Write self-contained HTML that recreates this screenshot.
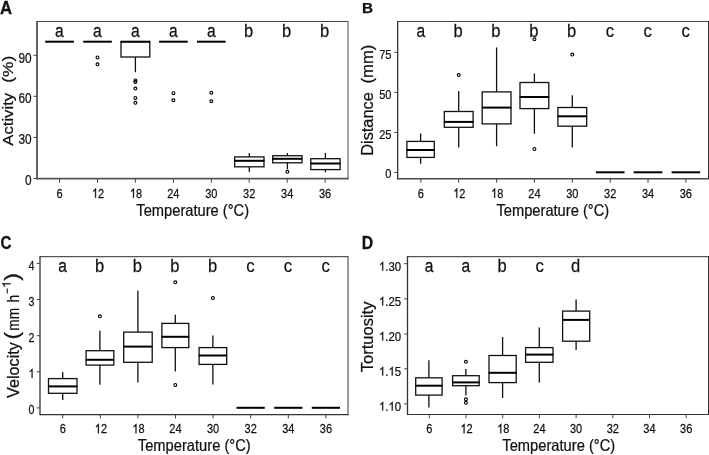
<!DOCTYPE html>
<html><head><meta charset="utf-8"><title>Figure</title>
<style>
html,body{margin:0;padding:0;background:#fff;}
svg{display:block;filter:grayscale(1);}
text{font-family:"Liberation Sans",sans-serif;fill:#111;stroke:#111;stroke-width:0.25px;}
</style></head><body>
<svg width="709" height="455" viewBox="0 0 709 455">
<rect width="709" height="455" fill="#fff"/>
<path d="M37.0 21.45H348.05" stroke="#444" stroke-width="1.1"/>
<path d="M348.05 20.9V178.7" stroke="#777" stroke-width="1.3"/>
<path d="M37.0 20.9V179.6" stroke="#555" stroke-width="1.8"/>
<path d="M37.0 178.7H348.7" stroke="#555" stroke-width="1.8"/>
<text transform="translate(0.00 13.70) scale(0.875 1)" font-size="19.1" text-anchor="start" font-weight="bold" fill="#000" stroke="#000" stroke-width="0.55">A</text>
<path d="M33.40 55.3H37.0" stroke="#444" stroke-width="1"/>
<text transform="translate(18.45 62.71) scale(0.845 1)" font-size="14.0" text-anchor="start">90</text>
<path d="M33.40 96.3H37.0" stroke="#444" stroke-width="1"/>
<text transform="translate(18.45 103.31) scale(0.845 1)" font-size="14.0" text-anchor="start">60</text>
<path d="M33.40 137.4H37.0" stroke="#444" stroke-width="1"/>
<text transform="translate(18.45 144.01) scale(0.845 1)" font-size="14.0" text-anchor="start">30</text>
<path d="M33.40 178.4H37.0" stroke="#444" stroke-width="1"/>
<text transform="translate(25.02 184.61) scale(0.845 1)" font-size="14.0" text-anchor="start">0</text>
<path d="M59.5 178.7V182.80" stroke="#444" stroke-width="1"/>
<text transform="translate(56.49 197.80) scale(0.835 1)" font-size="13.2" text-anchor="start">6</text>
<path d="M97.5 178.7V182.80" stroke="#444" stroke-width="1"/>
<path transform="translate(91.96 197.80) scale(0.005382 -0.006445)" d="M763 0H583V1147Q518 1085 412.5 1023T223 930V1104Q373 1175 485.5 1275T645 1469H763Z" fill="#111" stroke="#111" stroke-width="0.25" vector-effect="non-scaling-stroke"/><text transform="translate(98.09 197.80) scale(0.835 1)" font-size="13.2" text-anchor="start">2</text>
<path d="M135.4 178.7V182.80" stroke="#444" stroke-width="1"/>
<path transform="translate(129.90 197.80) scale(0.005382 -0.006445)" d="M763 0H583V1147Q518 1085 412.5 1023T223 930V1104Q373 1175 485.5 1275T645 1469H763Z" fill="#111" stroke="#111" stroke-width="0.25" vector-effect="non-scaling-stroke"/><text transform="translate(136.03 197.80) scale(0.835 1)" font-size="13.2" text-anchor="start">8</text>
<path d="M173.4 178.7V182.80" stroke="#444" stroke-width="1"/>
<text transform="translate(167.24 197.80) scale(0.835 1)" font-size="13.2" text-anchor="start">24</text>
<path d="M211.3 178.7V182.80" stroke="#444" stroke-width="1"/>
<text transform="translate(205.18 197.80) scale(0.835 1)" font-size="13.2" text-anchor="start">30</text>
<path d="M249.2 178.7V182.80" stroke="#444" stroke-width="1"/>
<text transform="translate(243.12 197.80) scale(0.835 1)" font-size="13.2" text-anchor="start">32</text>
<path d="M287.2 178.7V182.80" stroke="#444" stroke-width="1"/>
<text transform="translate(281.06 197.80) scale(0.835 1)" font-size="13.2" text-anchor="start">34</text>
<path d="M325.1 178.7V182.80" stroke="#444" stroke-width="1"/>
<text transform="translate(319.00 197.80) scale(0.835 1)" font-size="13.2" text-anchor="start">36</text>
<text transform="translate(59.45 37.00) scale(0.82 1)" font-size="19" text-anchor="middle">a</text>
<text transform="translate(97.39 37.00) scale(0.82 1)" font-size="19" text-anchor="middle">a</text>
<text transform="translate(135.33 37.00) scale(0.82 1)" font-size="19" text-anchor="middle">a</text>
<text transform="translate(173.27 37.00) scale(0.82 1)" font-size="19" text-anchor="middle">a</text>
<text transform="translate(211.21 37.00) scale(0.82 1)" font-size="19" text-anchor="middle">a</text>
<text transform="translate(248.65 37.00) scale(0.87 1)" font-size="19" text-anchor="middle">b</text>
<text transform="translate(286.59 37.00) scale(0.87 1)" font-size="19" text-anchor="middle">b</text>
<text transform="translate(324.53 37.00) scale(0.87 1)" font-size="19" text-anchor="middle">b</text>
<text transform="translate(192.70 216.10) scale(0.88 1)" font-size="16.7" text-anchor="middle">Temperature (°C)</text>
<text transform="translate(13.1 145.7) rotate(-90) scale(1.0 0.93)" font-size="16.7" text-anchor="start">Activity</text><text transform="translate(13.1 82.8) rotate(-90) scale(1.04 0.93)" font-size="16.7" text-anchor="start">(%)</text>
<path d="M45.2 41.7H73.9" stroke="#000" stroke-width="2"/><path d="M83.2 41.7H111.8" stroke="#000" stroke-width="2"/><circle cx="97.5" cy="57.5" r="1.45" fill="none" stroke="#000" stroke-width="1.1"/><circle cx="97.5" cy="64.3" r="1.45" fill="none" stroke="#000" stroke-width="1.1"/><path d="M135.4 41.7V41.7M135.4 57.0V72.2" stroke="#111" stroke-width="1.3" fill="none"/><rect x="121.0" y="41.7" width="28.8" height="15.3" fill="#fff" stroke="#111" stroke-width="1.3"/><path d="M120.6 41.7H150.2" stroke="#000" stroke-width="2"/><circle cx="135.4" cy="80.4" r="1.45" fill="none" stroke="#000" stroke-width="1.1"/><circle cx="135.4" cy="82.0" r="1.45" fill="none" stroke="#000" stroke-width="1.1"/><circle cx="135.4" cy="88.6" r="1.45" fill="none" stroke="#000" stroke-width="1.1"/><circle cx="135.4" cy="97.9" r="1.45" fill="none" stroke="#000" stroke-width="1.1"/><circle cx="135.4" cy="102.8" r="1.45" fill="none" stroke="#000" stroke-width="1.1"/><path d="M159.1 41.7H187.7" stroke="#000" stroke-width="2"/><circle cx="173.4" cy="93.2" r="1.45" fill="none" stroke="#000" stroke-width="1.1"/><circle cx="173.4" cy="100.3" r="1.45" fill="none" stroke="#000" stroke-width="1.1"/><path d="M197.0 41.7H225.6" stroke="#000" stroke-width="2"/><circle cx="211.3" cy="92.7" r="1.45" fill="none" stroke="#000" stroke-width="1.1"/><circle cx="211.3" cy="101.3" r="1.45" fill="none" stroke="#000" stroke-width="1.1"/><path d="M249.3 152.9V156.9M249.3 166.8V172.1" stroke="#111" stroke-width="1.3" fill="none"/><rect x="234.7" y="156.9" width="29.3" height="9.9" fill="#fff" stroke="#111" stroke-width="1.3"/><path d="M234.3 160.8H264.4" stroke="#000" stroke-width="2"/><path d="M287.4 152.9V155.7M287.4 162.8V169.3" stroke="#111" stroke-width="1.3" fill="none"/><rect x="272.7" y="155.7" width="29.3" height="7.1" fill="#fff" stroke="#111" stroke-width="1.3"/><path d="M272.3 158.8H302.4" stroke="#000" stroke-width="2"/><circle cx="287.4" cy="171.8" r="1.45" fill="none" stroke="#000" stroke-width="1.1"/><path d="M325.4 152.9V158.7M325.4 169.6V172.3" stroke="#111" stroke-width="1.3" fill="none"/><rect x="310.8" y="158.7" width="29.3" height="10.9" fill="#fff" stroke="#111" stroke-width="1.3"/><path d="M310.4 163.5H340.5" stroke="#000" stroke-width="2"/>
<path d="M397.65 21.45H708.5" stroke="#444" stroke-width="1.1"/>
<path d="M708.5 20.9V178.75" stroke="#333" stroke-width="1.0"/>
<path d="M397.65 20.9V179.6" stroke="#333" stroke-width="1.3"/>
<path d="M397.65 178.75H709.0" stroke="#4a4a4a" stroke-width="1.7"/>
<text transform="translate(362.00 13.20) scale(1.0 1)" font-size="15.3" text-anchor="start" font-weight="bold" fill="#000" stroke="#000" stroke-width="0.55">B</text>
<path d="M394.30 52.3H397.65" stroke="#444" stroke-width="1"/>
<text transform="translate(379.14 59.19) scale(0.845 1)" font-size="13.1" text-anchor="start">75</text>
<path d="M394.30 92.4H397.65" stroke="#444" stroke-width="1"/>
<text transform="translate(379.14 98.99) scale(0.845 1)" font-size="13.1" text-anchor="start">50</text>
<path d="M394.30 132.5H397.65" stroke="#444" stroke-width="1"/>
<text transform="translate(379.14 138.69) scale(0.845 1)" font-size="13.1" text-anchor="start">25</text>
<path d="M394.30 172.5H397.65" stroke="#444" stroke-width="1"/>
<text transform="translate(385.30 178.49) scale(0.845 1)" font-size="13.1" text-anchor="start">0</text>
<path d="M420.9 178.75V182.80" stroke="#444" stroke-width="1"/>
<text transform="translate(417.79 197.80) scale(0.835 1)" font-size="13.2" text-anchor="start">6</text>
<path d="M458.7 178.75V182.80" stroke="#444" stroke-width="1"/>
<path transform="translate(453.18 197.80) scale(0.005382 -0.006445)" d="M763 0H583V1147Q518 1085 412.5 1023T223 930V1104Q373 1175 485.5 1275T645 1469H763Z" fill="#111" stroke="#111" stroke-width="0.25" vector-effect="non-scaling-stroke"/><text transform="translate(459.31 197.80) scale(0.835 1)" font-size="13.2" text-anchor="start">2</text>
<path d="M496.6 178.75V182.80" stroke="#444" stroke-width="1"/>
<path transform="translate(491.04 197.80) scale(0.005382 -0.006445)" d="M763 0H583V1147Q518 1085 412.5 1023T223 930V1104Q373 1175 485.5 1275T645 1469H763Z" fill="#111" stroke="#111" stroke-width="0.25" vector-effect="non-scaling-stroke"/><text transform="translate(497.17 197.80) scale(0.835 1)" font-size="13.2" text-anchor="start">8</text>
<path d="M534.4 178.75V182.80" stroke="#444" stroke-width="1"/>
<text transform="translate(528.30 197.80) scale(0.835 1)" font-size="13.2" text-anchor="start">24</text>
<path d="M572.3 178.75V182.80" stroke="#444" stroke-width="1"/>
<text transform="translate(566.16 197.80) scale(0.835 1)" font-size="13.2" text-anchor="start">30</text>
<path d="M610.2 178.75V182.80" stroke="#444" stroke-width="1"/>
<text transform="translate(604.02 197.80) scale(0.835 1)" font-size="13.2" text-anchor="start">32</text>
<path d="M648.0 178.75V182.80" stroke="#444" stroke-width="1"/>
<text transform="translate(641.88 197.80) scale(0.835 1)" font-size="13.2" text-anchor="start">34</text>
<path d="M685.9 178.75V182.80" stroke="#444" stroke-width="1"/>
<text transform="translate(679.74 197.80) scale(0.835 1)" font-size="13.2" text-anchor="start">36</text>
<text transform="translate(420.75 37.00) scale(0.82 1)" font-size="19" text-anchor="middle">a</text>
<text transform="translate(458.11 37.00) scale(0.87 1)" font-size="19" text-anchor="middle">b</text>
<text transform="translate(495.97 37.00) scale(0.87 1)" font-size="19" text-anchor="middle">b</text>
<text transform="translate(533.83 37.00) scale(0.87 1)" font-size="19" text-anchor="middle">b</text>
<text transform="translate(571.69 37.00) scale(0.87 1)" font-size="19" text-anchor="middle">b</text>
<text transform="translate(609.85 37.00) scale(0.88 1)" font-size="19" text-anchor="middle">c</text>
<text transform="translate(647.71 37.00) scale(0.88 1)" font-size="19" text-anchor="middle">c</text>
<text transform="translate(685.57 37.00) scale(0.88 1)" font-size="19" text-anchor="middle">c</text>
<text transform="translate(552.80 216.10) scale(0.88 1)" font-size="16.7" text-anchor="middle">Temperature (°C)</text>
<text transform="translate(373.3 155.8) rotate(-90) scale(0.98 0.98)" font-size="16.7" text-anchor="start">Distance</text><text transform="translate(373.3 83.5) rotate(-90) scale(1.0 0.98)" font-size="16.7" text-anchor="start">(mm)</text>
<path d="M420.6 133.4V141.4M420.6 157.4V163.8" stroke="#111" stroke-width="1.3" fill="none"/><rect x="406.9" y="141.4" width="27.4" height="16.0" fill="#fff" stroke="#111" stroke-width="1.3"/><path d="M406.5 150.0H434.6" stroke="#000" stroke-width="2"/><path d="M458.7 91.1V111.5M458.7 127.3V147.4" stroke="#111" stroke-width="1.3" fill="none"/><rect x="444.3" y="111.5" width="28.8" height="15.8" fill="#fff" stroke="#111" stroke-width="1.3"/><path d="M443.9 121.9H473.5" stroke="#000" stroke-width="2"/><circle cx="458.7" cy="75.1" r="1.45" fill="none" stroke="#000" stroke-width="1.1"/><path d="M496.6 47.5V91.9M496.6 123.9V146.2" stroke="#111" stroke-width="1.3" fill="none"/><rect x="482.2" y="91.9" width="28.8" height="32.0" fill="#fff" stroke="#111" stroke-width="1.3"/><path d="M481.8 107.6H511.4" stroke="#000" stroke-width="2"/><path d="M534.4 73.6V82.5M534.4 108.6V133.7" stroke="#111" stroke-width="1.3" fill="none"/><rect x="520.0" y="82.5" width="28.8" height="26.1" fill="#fff" stroke="#111" stroke-width="1.3"/><path d="M519.6 97.0H549.2" stroke="#000" stroke-width="2"/><circle cx="534.4" cy="39.3" r="1.45" fill="none" stroke="#000" stroke-width="1.1"/><circle cx="534.4" cy="149.0" r="1.45" fill="none" stroke="#000" stroke-width="1.1"/><path d="M572.3 95.2V107.5M572.3 126.2V147.6" stroke="#111" stroke-width="1.3" fill="none"/><rect x="557.9" y="107.5" width="28.8" height="18.7" fill="#fff" stroke="#111" stroke-width="1.3"/><path d="M557.5 116.3H587.1" stroke="#000" stroke-width="2"/><circle cx="572.3" cy="54.6" r="1.45" fill="none" stroke="#000" stroke-width="1.1"/><path d="M595.9 172.3H624.5" stroke="#000" stroke-width="2"/><path d="M633.7 172.3H662.3" stroke="#000" stroke-width="2"/><path d="M671.6 172.3H700.2" stroke="#000" stroke-width="2"/>
<path d="M40.0 256.65H348.05" stroke="#555" stroke-width="1.1"/>
<path d="M348.05 256.09999999999997V414.6" stroke="#666" stroke-width="1.3"/>
<path d="M40.0 256.09999999999997V415.25" stroke="#333" stroke-width="1.3"/>
<path d="M40.0 414.6H348.7" stroke="#333" stroke-width="1.3"/>
<text transform="translate(0.50 248.80) scale(0.82 1)" font-size="18.5" text-anchor="start" font-weight="bold" fill="#000" stroke="#000" stroke-width="0.55">C</text>
<path d="M36.65 263.4H40.0" stroke="#444" stroke-width="1"/>
<text transform="translate(28.57 270.45) scale(0.82 1)" font-size="13.0" text-anchor="start">4</text>
<path d="M36.65 299.5H40.0" stroke="#444" stroke-width="1"/>
<text transform="translate(28.57 306.35) scale(0.82 1)" font-size="13.0" text-anchor="start">3</text>
<path d="M36.65 335.7H40.0" stroke="#444" stroke-width="1"/>
<text transform="translate(28.57 342.25) scale(0.82 1)" font-size="13.0" text-anchor="start">2</text>
<path d="M36.65 371.8H40.0" stroke="#444" stroke-width="1"/>
<path transform="translate(28.57 378.05) scale(0.005205 -0.006348)" d="M763 0H583V1147Q518 1085 412.5 1023T223 930V1104Q373 1175 485.5 1275T645 1469H763Z" fill="#111" stroke="#111" stroke-width="0.25" vector-effect="non-scaling-stroke"/>
<path d="M36.65 407.9H40.0" stroke="#444" stroke-width="1"/>
<text transform="translate(28.57 413.95) scale(0.82 1)" font-size="13.0" text-anchor="start">0</text>
<path d="M62.7 414.6V418.45" stroke="#444" stroke-width="1"/>
<text transform="translate(59.64 433.30) scale(0.835 1)" font-size="13.2" text-anchor="start">6</text>
<path d="M100.3 414.6V418.45" stroke="#444" stroke-width="1"/>
<path transform="translate(94.77 433.30) scale(0.005382 -0.006445)" d="M763 0H583V1147Q518 1085 412.5 1023T223 930V1104Q373 1175 485.5 1275T645 1469H763Z" fill="#111" stroke="#111" stroke-width="0.25" vector-effect="non-scaling-stroke"/><text transform="translate(100.90 433.30) scale(0.835 1)" font-size="13.2" text-anchor="start">2</text>
<path d="M137.9 414.6V418.45" stroke="#444" stroke-width="1"/>
<path transform="translate(132.37 433.30) scale(0.005382 -0.006445)" d="M763 0H583V1147Q518 1085 412.5 1023T223 930V1104Q373 1175 485.5 1275T645 1469H763Z" fill="#111" stroke="#111" stroke-width="0.25" vector-effect="non-scaling-stroke"/><text transform="translate(138.50 433.30) scale(0.835 1)" font-size="13.2" text-anchor="start">8</text>
<path d="M175.5 414.6V418.45" stroke="#444" stroke-width="1"/>
<text transform="translate(169.37 433.30) scale(0.835 1)" font-size="13.2" text-anchor="start">24</text>
<path d="M213.1 414.6V418.45" stroke="#444" stroke-width="1"/>
<text transform="translate(206.97 433.30) scale(0.835 1)" font-size="13.2" text-anchor="start">30</text>
<path d="M250.7 414.6V418.45" stroke="#444" stroke-width="1"/>
<text transform="translate(244.57 433.30) scale(0.835 1)" font-size="13.2" text-anchor="start">32</text>
<path d="M288.3 414.6V418.45" stroke="#444" stroke-width="1"/>
<text transform="translate(282.17 433.30) scale(0.835 1)" font-size="13.2" text-anchor="start">34</text>
<path d="M325.9 414.6V418.45" stroke="#444" stroke-width="1"/>
<text transform="translate(319.77 433.30) scale(0.835 1)" font-size="13.2" text-anchor="start">36</text>
<text transform="translate(62.60 272.40) scale(0.82 1)" font-size="19" text-anchor="middle">a</text>
<text transform="translate(99.70 272.40) scale(0.87 1)" font-size="19" text-anchor="middle">b</text>
<text transform="translate(137.30 272.40) scale(0.87 1)" font-size="19" text-anchor="middle">b</text>
<text transform="translate(174.90 272.40) scale(0.87 1)" font-size="19" text-anchor="middle">b</text>
<text transform="translate(212.50 272.40) scale(0.87 1)" font-size="19" text-anchor="middle">b</text>
<text transform="translate(250.40 272.40) scale(0.88 1)" font-size="19" text-anchor="middle">c</text>
<text transform="translate(288.00 272.40) scale(0.88 1)" font-size="19" text-anchor="middle">c</text>
<text transform="translate(325.60 272.40) scale(0.88 1)" font-size="19" text-anchor="middle">c</text>
<text transform="translate(194.25 450.50) scale(0.88 1)" font-size="16.7" text-anchor="middle">Temperature (°C)</text>
<text transform="translate(18.6 397.9) rotate(-90) scale(0.97 0.98)" font-size="16.7" text-anchor="start">Velocity</text><text transform="translate(18.9 339.6) rotate(-90) scale(1.15 1.0)" font-size="20.0" text-anchor="start">(</text><text transform="translate(18.6 330.7) rotate(-90) scale(0.82 0.98)" font-size="16.7" text-anchor="start">mm</text><text transform="translate(18.6 302.4) rotate(-90) scale(0.82 0.98)" font-size="16.7" text-anchor="start">h</text><text transform="translate(10.6 293.6) rotate(-90) scale(0.8 1.0)" font-size="11.7" text-anchor="start">−</text><path transform="translate(10.6 294.0) rotate(-90) translate(6.30 0.00) scale(0.005713 -0.005713)" d="M763 0H583V1147Q518 1085 412.5 1023T223 930V1104Q373 1175 485.5 1275T645 1469H763Z" fill="#111" stroke="#111" stroke-width="0.25" vector-effect="non-scaling-stroke"/><text transform="translate(18.9 280.8) rotate(-90) scale(1.15 1.0)" font-size="20.0" text-anchor="start">)</text>
<path d="M62.7 372.0V378.6M62.7 393.3V399.9" stroke="#111" stroke-width="1.3" fill="none"/><rect x="48.5" y="378.6" width="28.5" height="14.7" fill="#fff" stroke="#111" stroke-width="1.3"/><path d="M48.1 386.4H77.4" stroke="#000" stroke-width="2"/><path d="M99.9 330.8V350.7M99.9 365.1V384.7" stroke="#111" stroke-width="1.3" fill="none"/><rect x="86.1" y="350.7" width="27.7" height="14.4" fill="#fff" stroke="#111" stroke-width="1.3"/><path d="M85.7 359.8H114.2" stroke="#000" stroke-width="2"/><circle cx="99.9" cy="316.3" r="1.45" fill="none" stroke="#000" stroke-width="1.1"/><path d="M137.9 290.7V332.1M137.9 362.3V382.6" stroke="#111" stroke-width="1.3" fill="none"/><rect x="123.7" y="332.1" width="28.5" height="30.2" fill="#fff" stroke="#111" stroke-width="1.3"/><path d="M123.2 346.6H152.6" stroke="#000" stroke-width="2"/><path d="M175.3 314.8V323.4M175.3 347.6V371.5" stroke="#111" stroke-width="1.3" fill="none"/><rect x="161.9" y="323.4" width="26.9" height="24.2" fill="#fff" stroke="#111" stroke-width="1.3"/><path d="M161.5 336.8H189.2" stroke="#000" stroke-width="2"/><circle cx="175.3" cy="282.3" r="1.45" fill="none" stroke="#000" stroke-width="1.1"/><circle cx="175.3" cy="384.9" r="1.45" fill="none" stroke="#000" stroke-width="1.1"/><path d="M212.9 335.4V347.6M212.9 364.4V384.4" stroke="#111" stroke-width="1.3" fill="none"/><rect x="199.1" y="347.6" width="27.6" height="16.8" fill="#fff" stroke="#111" stroke-width="1.3"/><path d="M198.7 355.5H227.1" stroke="#000" stroke-width="2"/><circle cx="212.9" cy="297.9" r="1.45" fill="none" stroke="#000" stroke-width="1.1"/><path d="M236.5 407.8H264.8" stroke="#000" stroke-width="2"/><path d="M274.2 407.8H302.4" stroke="#000" stroke-width="2"/><path d="M311.8 407.8H340.0" stroke="#000" stroke-width="2"/>
<path d="M407.5 256.65H708.5" stroke="#555" stroke-width="1.1"/>
<path d="M708.5 256.09999999999997V414.5" stroke="#333" stroke-width="1.0"/>
<path d="M407.5 256.09999999999997V415.1" stroke="#333" stroke-width="1.3"/>
<path d="M407.5 414.5H709.0" stroke="#333" stroke-width="1.2"/>
<text transform="translate(361.80 248.80) scale(0.89 1)" font-size="17.7" text-anchor="start" font-weight="bold" fill="#000" stroke="#000" stroke-width="0.55">D</text>
<path d="M404.15 263.7H407.5" stroke="#444" stroke-width="1"/>
<path transform="translate(378.94 270.60) scale(0.005585 -0.006006)" d="M763 0H583V1147Q518 1085 412.5 1023T223 930V1104Q373 1175 485.5 1275T645 1469H763Z" fill="#111" stroke="#111" stroke-width="0.25" vector-effect="non-scaling-stroke"/><text transform="translate(385.30 270.60) scale(0.93 1)" font-size="12.3" text-anchor="start">.30</text>
<path d="M404.15 298.9H407.5" stroke="#444" stroke-width="1"/>
<path transform="translate(378.94 305.60) scale(0.005585 -0.006006)" d="M763 0H583V1147Q518 1085 412.5 1023T223 930V1104Q373 1175 485.5 1275T645 1469H763Z" fill="#111" stroke="#111" stroke-width="0.25" vector-effect="non-scaling-stroke"/><text transform="translate(385.30 305.60) scale(0.93 1)" font-size="12.3" text-anchor="start">.25</text>
<path d="M404.15 334.0H407.5" stroke="#444" stroke-width="1"/>
<path transform="translate(378.94 340.60) scale(0.005585 -0.006006)" d="M763 0H583V1147Q518 1085 412.5 1023T223 930V1104Q373 1175 485.5 1275T645 1469H763Z" fill="#111" stroke="#111" stroke-width="0.25" vector-effect="non-scaling-stroke"/><text transform="translate(385.30 340.60) scale(0.93 1)" font-size="12.3" text-anchor="start">.20</text>
<path d="M404.15 368.8H407.5" stroke="#444" stroke-width="1"/>
<path transform="translate(378.94 375.60) scale(0.005585 -0.006006)" d="M763 0H583V1147Q518 1085 412.5 1023T223 930V1104Q373 1175 485.5 1275T645 1469H763Z" fill="#111" stroke="#111" stroke-width="0.25" vector-effect="non-scaling-stroke"/><text transform="translate(385.30 375.60) scale(0.93 1)" font-size="12.3" text-anchor="start">.</text><path transform="translate(388.48 375.60) scale(0.005585 -0.006006)" d="M763 0H583V1147Q518 1085 412.5 1023T223 930V1104Q373 1175 485.5 1275T645 1469H763Z" fill="#111" stroke="#111" stroke-width="0.25" vector-effect="non-scaling-stroke"/><text transform="translate(394.84 375.60) scale(0.93 1)" font-size="12.3" text-anchor="start">5</text>
<path d="M404.15 403.9H407.5" stroke="#444" stroke-width="1"/>
<path transform="translate(378.94 410.60) scale(0.005585 -0.006006)" d="M763 0H583V1147Q518 1085 412.5 1023T223 930V1104Q373 1175 485.5 1275T645 1469H763Z" fill="#111" stroke="#111" stroke-width="0.25" vector-effect="non-scaling-stroke"/><text transform="translate(385.30 410.60) scale(0.93 1)" font-size="12.3" text-anchor="start">.</text><path transform="translate(388.48 410.60) scale(0.005585 -0.006006)" d="M763 0H583V1147Q518 1085 412.5 1023T223 930V1104Q373 1175 485.5 1275T645 1469H763Z" fill="#111" stroke="#111" stroke-width="0.25" vector-effect="non-scaling-stroke"/><text transform="translate(394.84 410.60) scale(0.93 1)" font-size="12.3" text-anchor="start">0</text>
<path d="M429.3 414.5V418.30" stroke="#444" stroke-width="1"/>
<text transform="translate(426.24 433.30) scale(0.835 1)" font-size="13.2" text-anchor="start">6</text>
<path d="M466.0 414.5V418.30" stroke="#444" stroke-width="1"/>
<path transform="translate(460.47 433.30) scale(0.005382 -0.006445)" d="M763 0H583V1147Q518 1085 412.5 1023T223 930V1104Q373 1175 485.5 1275T645 1469H763Z" fill="#111" stroke="#111" stroke-width="0.25" vector-effect="non-scaling-stroke"/><text transform="translate(466.60 433.30) scale(0.835 1)" font-size="13.2" text-anchor="start">2</text>
<path d="M502.7 414.5V418.30" stroke="#444" stroke-width="1"/>
<path transform="translate(497.17 433.30) scale(0.005382 -0.006445)" d="M763 0H583V1147Q518 1085 412.5 1023T223 930V1104Q373 1175 485.5 1275T645 1469H763Z" fill="#111" stroke="#111" stroke-width="0.25" vector-effect="non-scaling-stroke"/><text transform="translate(503.30 433.30) scale(0.835 1)" font-size="13.2" text-anchor="start">8</text>
<path d="M539.4 414.5V418.30" stroke="#444" stroke-width="1"/>
<text transform="translate(533.27 433.30) scale(0.835 1)" font-size="13.2" text-anchor="start">24</text>
<path d="M576.1 414.5V418.30" stroke="#444" stroke-width="1"/>
<text transform="translate(569.97 433.30) scale(0.835 1)" font-size="13.2" text-anchor="start">30</text>
<path d="M612.8 414.5V418.30" stroke="#444" stroke-width="1"/>
<text transform="translate(606.67 433.30) scale(0.835 1)" font-size="13.2" text-anchor="start">32</text>
<path d="M649.5 414.5V418.30" stroke="#444" stroke-width="1"/>
<text transform="translate(643.37 433.30) scale(0.835 1)" font-size="13.2" text-anchor="start">34</text>
<path d="M686.2 414.5V418.30" stroke="#444" stroke-width="1"/>
<text transform="translate(680.07 433.30) scale(0.835 1)" font-size="13.2" text-anchor="start">36</text>
<text transform="translate(429.20 272.40) scale(0.82 1)" font-size="19" text-anchor="middle">a</text>
<text transform="translate(465.90 272.40) scale(0.82 1)" font-size="19" text-anchor="middle">a</text>
<text transform="translate(502.10 272.40) scale(0.87 1)" font-size="19" text-anchor="middle">b</text>
<text transform="translate(539.80 272.40) scale(0.88 1)" font-size="19" text-anchor="middle">c</text>
<text transform="translate(575.60 272.40) scale(0.87 1)" font-size="19" text-anchor="middle">d</text>
<text transform="translate(558.75 450.50) scale(0.88 1)" font-size="16.7" text-anchor="middle">Temperature (°C)</text>
<text transform="translate(373.2 372.3) rotate(-90) scale(0.99 0.97)" font-size="16.7" text-anchor="start">Tortuosity</text>
<path d="M428.9 360.3V377.8M428.9 395.1V407.6" stroke="#111" stroke-width="1.3" fill="none"/><rect x="415.7" y="377.8" width="26.4" height="17.3" fill="#fff" stroke="#111" stroke-width="1.3"/><path d="M415.3 385.7H442.5" stroke="#000" stroke-width="2"/><path d="M465.9 369.0V375.7M465.9 385.7V395.4" stroke="#111" stroke-width="1.3" fill="none"/><rect x="452.6" y="375.7" width="26.6" height="10.0" fill="#fff" stroke="#111" stroke-width="1.3"/><path d="M452.2 382.4H479.6" stroke="#000" stroke-width="2"/><circle cx="465.9" cy="361.8" r="1.45" fill="none" stroke="#000" stroke-width="1.1"/><circle cx="465.9" cy="399.3" r="1.45" fill="none" stroke="#000" stroke-width="1.1"/><circle cx="465.9" cy="402.8" r="1.45" fill="none" stroke="#000" stroke-width="1.1"/><path d="M502.6 337.1V355.5M502.6 382.6V398.1" stroke="#111" stroke-width="1.3" fill="none"/><rect x="489.0" y="355.5" width="27.2" height="27.1" fill="#fff" stroke="#111" stroke-width="1.3"/><path d="M488.6 372.8H516.6" stroke="#000" stroke-width="2"/><path d="M539.3 327.5V347.6M539.3 362.3V382.4" stroke="#111" stroke-width="1.3" fill="none"/><rect x="525.6" y="347.6" width="27.4" height="14.7" fill="#fff" stroke="#111" stroke-width="1.3"/><path d="M525.2 354.6H553.4" stroke="#000" stroke-width="2"/><path d="M576.1 299.6V311.1M576.1 341.2V350.1" stroke="#111" stroke-width="1.3" fill="none"/><rect x="562.6" y="311.1" width="27.1" height="30.1" fill="#fff" stroke="#111" stroke-width="1.3"/><path d="M562.2 319.9H590.0" stroke="#000" stroke-width="2"/>
</svg>
</body></html>
